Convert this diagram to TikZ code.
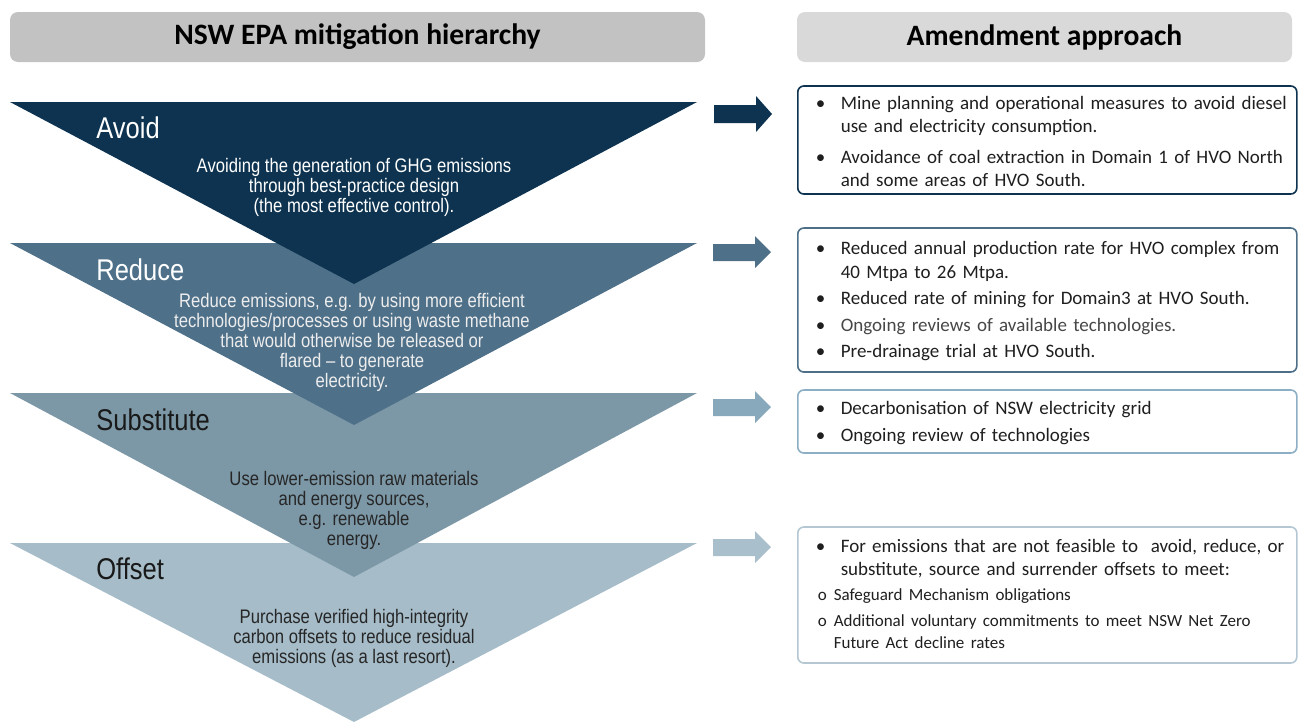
\documentclass[tikz,border=0pt]{standalone}
\usepackage{fontspec}
\setmainfont{Carlito}
\newfontfamily\narrowsf[FakeStretch=0.85]{Liberation Sans}
\usetikzlibrary{positioning}

\definecolor{avoidc}{HTML}{0D3350}
\definecolor{reducec}{HTML}{4E7089}
\definecolor{substc}{HTML}{7C98A7}
\definecolor{offsetc}{HTML}{A6BDC9}
\definecolor{substar}{HTML}{88A8BC}
\definecolor{offsetar}{HTML}{A9BFCB}
\definecolor{reducebox}{HTML}{4E6F88}
\definecolor{substbox}{HTML}{8DAFC5}
\definecolor{offsetbox}{HTML}{B4C7D2}
\definecolor{headgrey}{HTML}{C2C2C2}
\definecolor{headlight}{HTML}{D9D9D9}

% bullet items for the boxes on the right
\newcommand{\bul}[1]{\par\noindent\hangindent=12.5pt\hangafter=1\makebox[12.5pt][l]{\textbullet}#1\par}
\newcommand{\subbul}[1]{\par\noindent\hangindent=9pt\hangafter=1\fontsize{8.5}{11}\selectfont\makebox[9pt][l]{\hspace{1pt}o}#1\par}

\begin{document}
\begin{tikzpicture}[x=0.5pt, y=-0.5pt,
    head/.style={rounded corners=4pt, minimum height=25pt, inner sep=0pt,
      font=\fontsize{14.8}{16}\selectfont\bfseries},
    level/.style={anchor=west, inner sep=0pt, font=\narrowsf\fontsize{15}{16}\selectfont},
    desc/.style={align=center, inner sep=0pt, font=\narrowsf\fontsize{9.8}{10}\selectfont},
    box/.style={draw=#1, line width=0.8pt, rounded corners=3pt, fill=white, anchor=west,
      text width=231.5pt, inner xsep=9pt, inner ysep=0pt,
      font=\fontsize{9.5}{11.6}\selectfont, text=black!88},
    blockarrow/.style={fill=#1}]
  \useasboundingbox (0,0) rectangle (1298,724);

  % column headings
  \node[head, fill=headgrey, minimum width=347.5pt] (lhead) at (357.5,37) {NSW EPA mitigation hierarchy};
  \node[head, fill=headlight, minimum width=247.5pt] (rhead) at (1044.5,37) {Amendment approach};

  % stacked triangles, bottom one first
  \fill[offsetc] (10,543) -- (697,543) -- (354,722) -- cycle;
  \fill[substc] (10,393) -- (697,393) -- (354,577) -- cycle;
  \fill[reducec] (10,243) -- (697,243) -- (354,425) -- cycle;
  \fill[avoidc] (10,102) -- (697,102) -- (354,284) -- cycle;

  \node[level, text=white] (avoid) at (96,128) {Avoid};
  \node[desc, text=white] (avoidtxt) at (354,187) {Avoiding the generation of GHG emissions\\through best-practice design\\(the most effective control).};

  \node[level, text=white] (reduce) at (96,270) {Reduce};
  \node[desc, text=white!93!black] (reducetxt) at (352,342) {Reduce emissions, e.g. by using more efficient\\technologies/processes or using waste methane\\that would otherwise be released or\\flared – to generate\\electricity.};

  \node[level, text=black!90] (subst) at (96,420) {Substitute};
  \node[desc, text=black!85] (substtxt) at (354,510) {Use lower-emission raw materials\\and energy sources,\\e.g. renewable\\energy.};

  \node[level, text=black!90] (offset) at (96,569) {Offset};
  \node[desc, text=black!85] (offsettxt) at (354,638) {Purchase verified high-integrity\\carbon offsets to reduce residual\\emissions (as a last resort).};

  % arrows
  \fill[blockarrow=avoidc] (714,105) -- (756,105) -- (756,96) -- (772,114) -- (756,132) -- (756,123) -- (714,123) -- cycle;
  \fill[blockarrow=reducec] (713,244) -- (755,244) -- (755,236) -- (771,252) -- (755,268) -- (755,261) -- (713,261) -- cycle;
  \fill[blockarrow=substar] (713,399) -- (755,399) -- (755,391) -- (771,407) -- (755,423) -- (755,416) -- (713,416) -- cycle;
  \fill[blockarrow=offsetar] (713,539) -- (755,539) -- (755,531) -- (771,547) -- (755,563) -- (755,556) -- (713,556) -- cycle;

  % amendment boxes
  \node[box=avoidc, minimum height=54pt] (avoidbox) at (797,140) {\raggedright
    \bul{\mbox{Mine planning and operational measures to avoid diesel}\newline use and electricity consumption.}\vspace{4pt}
    \bul{\mbox{Avoidance of coal extraction in Domain 1 of HVO North}\newline and some areas of HVO South.}\vspace{3.5pt}};

  \node[box=reducebox, minimum height=72pt] (reducebox) at (797,300) {\raggedright
    \bul{\mbox{Reduced annual production rate for HVO complex from}\newline 40 Mtpa to 26 Mtpa.}\vspace{1.8pt}
    \bul{Reduced rate of mining for Domain3 at HVO South.}\vspace{1.5pt}
    \bul{\textcolor{black!72}{Ongoing reviews of available technologies.}}\vspace{1.8pt}
    \bul{Pre-drainage trial at HVO South.}\vspace{3.5pt}};

  \node[box=substbox, minimum height=31.5pt] (substbox) at (797,421.5) {\raggedright
    \bul{Decarbonisation of NSW electricity grid}\vspace{2pt}
    \bul{Ongoing review of technologies}\vspace{3.5pt}};

  \node[box=offsetbox, minimum height=68pt] (offsetbox) at (797,595) {\raggedright
    \bul{\mbox{For emissions that are not feasible to\ \ avoid, reduce, or}\newline substitute, source and surrender offsets to meet:}\vspace{1.5pt}
    \subbul{Safeguard Mechanism obligations}\vspace{2pt}
    \subbul{\mbox{Additional voluntary commitments to meet NSW Net Zero}\newline Future Act decline rates}\vspace{6pt}};
\end{tikzpicture}
\end{document}
